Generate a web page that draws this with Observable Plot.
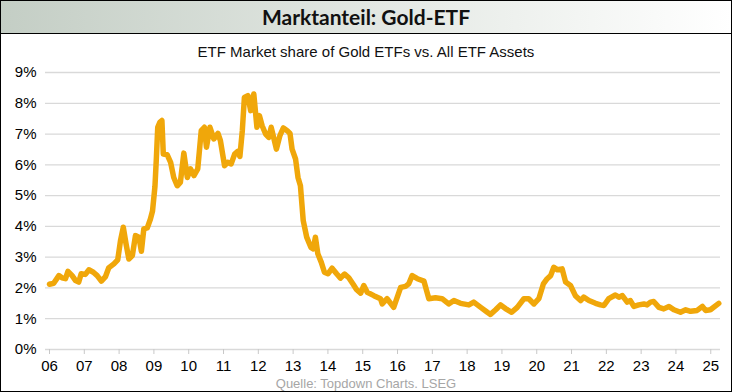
<!DOCTYPE html>
<html><head><meta charset="utf-8">
<script src="https://cdn.jsdelivr.net/npm/d3@7"></script>
<script src="https://cdn.jsdelivr.net/npm/@observablehq/plot@0.6"></script>
<style>
body{margin:0;background:#fff;}
#frame{position:relative;width:730px;height:390px;border:1px solid #000;overflow:hidden;font-family:"Liberation Sans",Arial,sans-serif;background:#fff;}
#title{height:32px;border-bottom:1px solid #000;background:linear-gradient(to right,#c4cec5,#e8ece8 60%,#ffffff);text-align:center;font-family:Lato,"Open Sans",sans-serif;font-weight:bold;font-size:21px;line-height:32px;color:#111;}
#sub{position:absolute;top:42px;left:0;width:730px;text-align:center;font-size:15px;line-height:17px;color:#111;}
#chart{position:absolute;top:60px;left:0;}
#cap{position:absolute;top:375px;left:0;width:730px;text-align:center;font-size:13px;line-height:15px;color:#a6a6a6;}
</style></head>
<body>
<div id="frame">
  <div id="title">Marktanteil: Gold-ETF</div>
  <div id="sub">ETF Market share of Gold ETFs vs. All ETF Assets</div>
  <div id="chart"></div>
  <div id="cap">Quelle: Topdown Charts. LSEG</div>
</div>
<script>
const dates = [2006.00,2006.03,2006.12,2006.27,2006.36,2006.46,2006.53,2006.65,2006.75,2006.84,2006.91,
2007.03,2007.13,2007.26,2007.37,2007.49,2007.61,2007.70,2007.85,2007.96,
2008.04,2008.12,2008.20,2008.28,2008.38,2008.47,2008.57,2008.64,2008.71,2008.81,2008.90,2008.96,
2009.03,2009.07,2009.11,2009.17,2009.23,2009.27,2009.38,2009.48,2009.57,2009.67,2009.76,2009.86,2009.96,
2010.05,2010.15,2010.26,2010.36,2010.45,2010.51,2010.61,2010.72,2010.84,2010.91,
2011.03,2011.12,2011.22,2011.32,2011.41,2011.47,2011.54,2011.60,2011.70,2011.78,2011.87,2011.96,
2012.03,2012.11,2012.21,2012.30,2012.37,2012.45,2012.52,2012.62,2012.72,2012.83,2012.91,2012.97,
2013.07,2013.14,2013.21,2013.29,2013.39,2013.51,2013.58,2013.64,2013.71,2013.81,2013.90,
2014.00,2014.12,2014.25,2014.36,2014.48,2014.60,2014.73,2014.82,2014.94,
2015.03,2015.13,2015.32,2015.51,2015.56,2015.70,2015.89,
2016.09,2016.23,2016.32,2016.42,2016.57,2016.76,2016.90,
2017.09,2017.28,2017.47,2017.62,2017.81,
2018.05,2018.19,2018.39,2018.58,2018.67,2018.82,2018.96,
2019.10,2019.28,2019.44,2019.63,2019.77,2019.92,
2020.06,2020.19,2020.30,2020.40,2020.49,2020.59,2020.73,2020.83,2020.97,
2021.11,2021.26,2021.35,2021.50,2021.69,2021.83,2021.93,
2022.07,2022.26,2022.36,2022.46,2022.60,2022.69,2022.79,2022.93,
2023.08,2023.17,2023.27,2023.36,2023.51,2023.65,2023.80,2023.94,
2024.13,2024.28,2024.42,2024.61,2024.76,2024.85,2024.99,2025.23];
const share = [2.12,2.13,2.15,2.40,2.33,2.30,2.54,2.40,2.24,2.19,2.46,
2.44,2.59,2.51,2.40,2.22,2.37,2.65,2.78,2.91,
3.54,3.97,3.43,2.94,3.05,3.70,3.65,3.19,3.92,3.95,4.24,4.50,
5.30,6.20,7.22,7.38,7.44,6.35,6.33,6.08,5.59,5.32,5.43,6.38,5.59,
5.87,5.65,5.87,7.11,7.22,6.57,7.22,6.84,7.02,6.79,
5.97,6.08,6.03,6.35,6.44,6.27,7.11,8.19,8.25,7.76,8.30,7.22,
7.60,7.27,7.00,6.89,7.22,6.84,6.51,6.95,7.20,7.11,7.02,6.51,
6.19,5.59,5.32,4.19,3.65,3.32,3.27,3.65,3.11,2.83,2.51,
2.46,2.64,2.46,2.32,2.45,2.33,2.11,1.95,1.83,
2.08,1.86,1.75,1.65,1.48,1.65,1.37,
2.02,2.05,2.13,2.40,2.30,2.22,1.65,
1.68,1.65,1.48,1.59,1.50,
1.45,1.54,1.37,1.21,1.14,1.29,1.45,
1.33,1.21,1.37,1.65,1.65,1.48,
1.65,2.13,2.30,2.40,2.67,2.59,2.62,2.19,2.08,
1.75,1.59,1.70,1.59,1.50,1.45,1.43,
1.65,1.77,1.70,1.75,1.54,1.59,1.40,1.45,
1.48,1.45,1.54,1.56,1.37,1.32,1.40,1.29,
1.21,1.29,1.24,1.27,1.40,1.27,1.29,1.50];
const yearTicks = [2006,2007,2008,2009,2010,2011,2012,2013,2014,2015,2016,2017,2018,2019,2020,2021,2022,2023,2024,2025];
const pctTicks = [0,1,2,3,4,5,6,7,8,9];

const data = dates.map((d,i)=>({date:d, share:share[i]}));

const chart = Plot.plot({
  width:730, height:320,
  marginTop:11, marginBottom:32, marginLeft:44, marginRight:11,
  style:{fontFamily:'"Liberation Sans", Arial, sans-serif', fontSize:"15px", color:"#000", background:"transparent", overflow:"visible"},
  x:{type:"linear", domain:[2005.885,2025.28]},
  y:{domain:[0,9]},
  marks:[
    Plot.ruleY(pctTicks, {stroke:"#d9d9d9", strokeWidth:1.3}),
    Plot.axisY({ticks:pctTicks, tickSize:0, tickPadding:9, tickFormat:d=>d+"%", fontSize:15, fill:"#000", label:null}),
    Plot.axisX({ticks:yearTicks, tickSize:5, tickPadding:6, stroke:"#c8c8c8", fill:"#000", tickFormat:d=>String(d).slice(2), fontSize:15, label:null}),
    Plot.line(data, {x:"date", y:"share", stroke:"#f0a70a", strokeWidth:5.5, strokeLinejoin:"round", strokeLinecap:"round"})
  ]
});
document.getElementById("chart").appendChild(chart);
</script>
</body></html>
